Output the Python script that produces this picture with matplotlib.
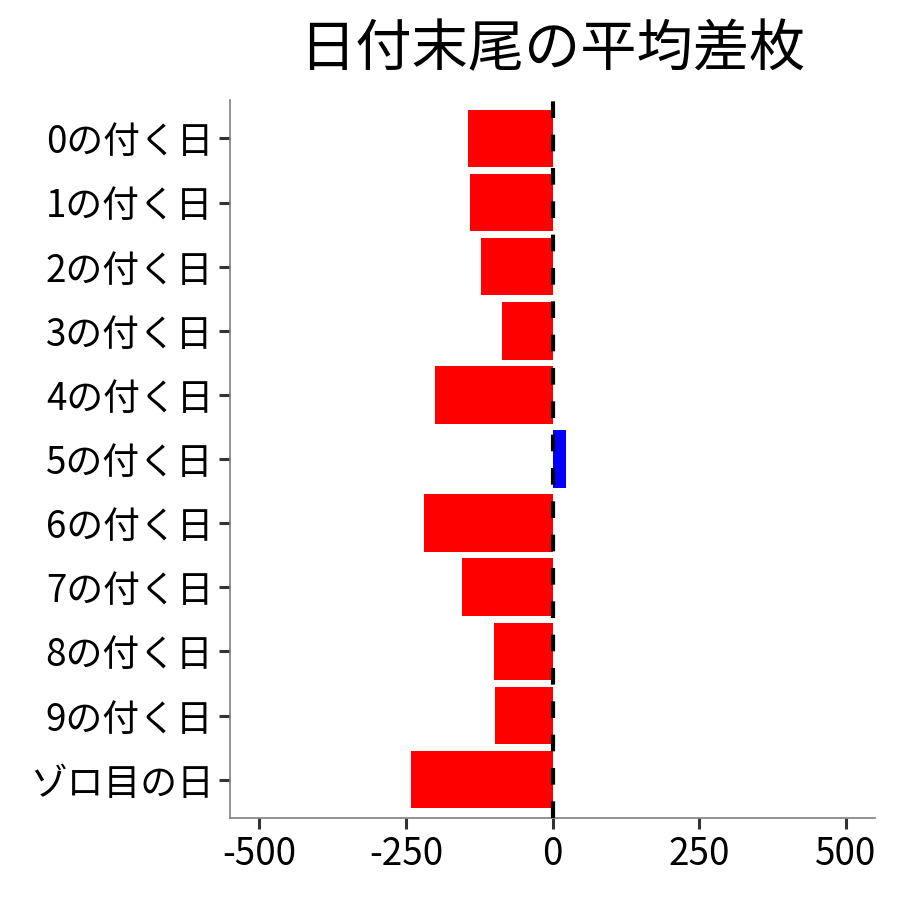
import matplotlib
matplotlib.use("Agg")
import matplotlib.pyplot as plt

plt.rcParams['font.family'] = ['Noto Sans CJK JP', 'DejaVu Sans']

labels = ["0の付く日", "1の付く日", "2の付く日", "3の付く日", "4の付く日",
          "5の付く日", "6の付く日", "7の付く日", "8の付く日", "9の付く日",
          "ゾロ目の日"]
values = [-145, -141, -122, -87, -201, 23, -219, -155, -100, -99, -242]
xticks = [-500, -250, 0, 250, 500]

colors = ["blue" if v > 0 else "red" for v in values]

fig = plt.figure(figsize=(9, 9), dpi=100)
ax = fig.add_axes([0.2556, 0.091, 0.7167, 0.798])

pos = list(range(len(labels)))
ax.barh(pos, values, height=0.9, color=colors, zorder=2)
ax.axvline(0, color="black", lw=3, dashes=(4, 4), zorder=3)

ax.set_xlim(-550, 550)
ax.set_ylim(len(labels) - 0.4, -0.6)
ax.set_yticks(pos)
ax.set_yticklabels(labels)
ax.set_xticks(xticks)
ax.set_xticklabels([str(t) for t in xticks])

for s in ["top", "right"]:
    ax.spines[s].set_visible(False)
for s in ["left", "bottom"]:
    ax.spines[s].set_color("#808080")
    ax.spines[s].set_linewidth(1.2)
ax.tick_params(axis="both", length=8, width=2.2, color="#333333",
               labelsize=26.5, pad=4, labelcolor="black")

ax.set_title("日付末尾の平均差枚", fontsize=40.5, pad=24)

fig.savefig("out.png", dpi=100)
